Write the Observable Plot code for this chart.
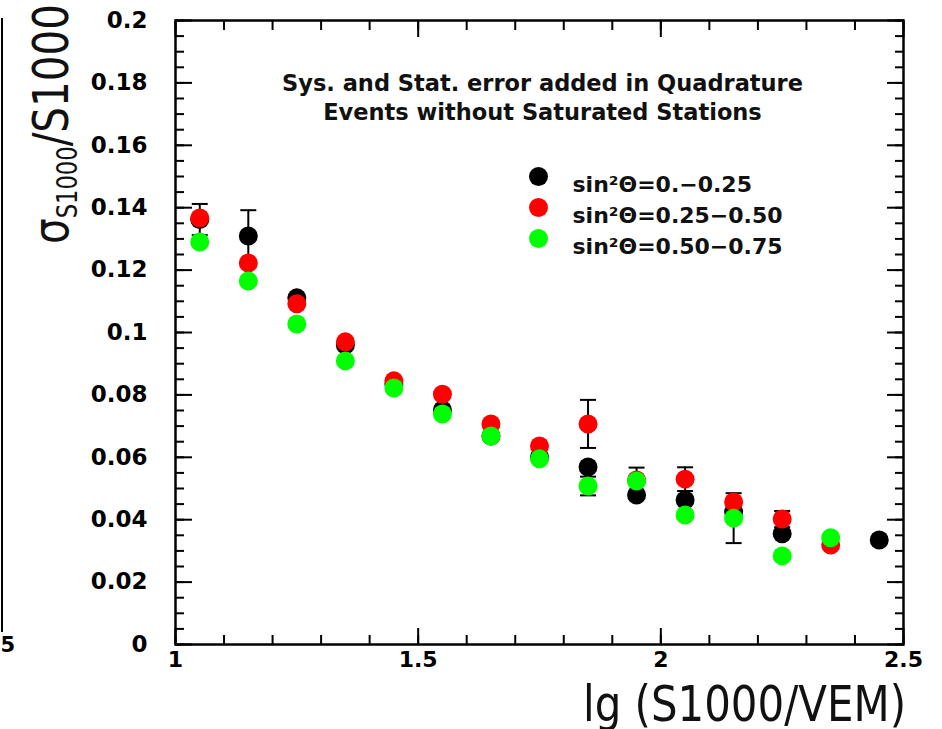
<!DOCTYPE html>
<html>
<head>
<meta charset="utf-8">
<script src="https://cdn.jsdelivr.net/npm/d3@7"></script>
<script src="https://cdn.jsdelivr.net/npm/@observablehq/plot@0.6"></script>
<style>
  html, body { margin: 0; padding: 0; background: #fff; }
  #chart { position: relative; width: 942px; height: 729px; overflow: hidden; }
</style>
</head>
<body>
<div id="chart"></div>
<script>
// ---- data ----
const lgS = [1.05, 1.15, 1.25, 1.35, 1.45, 1.55, 1.65, 1.75, 1.85, 1.95, 2.05, 2.15, 2.25, 2.35, 2.45];

const seriesNames = ["sin²Θ=0.−0.25", "sin²Θ=0.25−0.50", "sin²Θ=0.50−0.75"];
const seriesColors = ["#000000", "#ff0000", "#00ff00"];

const blackVals = [0.1362, 0.1309, 0.1111, 0.0960, 0.0835, 0.0752, 0.0668, 0.0601, 0.0569, 0.0479, 0.0463, 0.0425, 0.0355, null, 0.0335];
const blackErr  = [0.0050, 0.0083, 0, 0, 0, 0, 0, 0, 0, 0, 0, 0, 0, 0, 0];

const redVals = [0.1367, 0.1223, 0.1092, 0.0970, 0.0845, 0.0802, 0.0707, 0.0636, 0.0707, 0.0527, 0.0530, 0.0457, 0.0402, 0.0319, null];
const redErr  = [0, 0, 0, 0, 0, 0, 0, 0, 0.0077, 0.0040, 0.0038, 0, 0.0026, 0, 0];

const greenVals = [0.1290, 0.1165, 0.1027, 0.0909, 0.0822, 0.0739, 0.0668, 0.0595, 0.0508, 0.0524, 0.0415, 0.0405, 0.0284, 0.0342, null];
const greenErr  = [0, 0, 0, 0, 0, 0, 0, 0, 0.0030, 0, 0, 0.0080, 0, 0, 0];

const yMajorTicks = [0, 0.02, 0.04, 0.06, 0.08, 0.1, 0.12, 0.14, 0.16, 0.18, 0.2];
const yTickLabels = ["0", "0.02", "0.04", "0.06", "0.08", "0.1", "0.12", "0.14", "0.16", "0.18", "0.2"];
const xMajorTicks = [1, 1.5, 2, 2.5];
const xTickLabels = ["1", "1.5", "2", "2.5"];

const titleLines = ["Sys. and Stat. error added in Quadrature", "Events without Saturated Stations"];

// ---- table built from the arrays ----
const allVals = [blackVals, redVals, greenVals];
const allErr = [blackErr, redErr, greenErr];
const points = [];
allVals.forEach((vals, s) => {
  vals.forEach((v, i) => {
    if (v != null) points.push({x: lgS[i], y: v, err: allErr[s][i], series: seriesNames[s]});
  });
});
const errPoints = points.filter(d => d.err > 0);
const capPoints = errPoints.flatMap(d => [{x: d.x, y: d.y - d.err}, {x: d.x, y: d.y + d.err}]);
const yMinor = d3.range(0, 0.2001, 0.005);
const xMinor = d3.range(1, 2.5001, 0.1);

const tickFont = "DejaVu Sans, Verdana, sans-serif";

// horizontal cap symbol for error bars
const capSymbol = {draw(ctx) { ctx.moveTo(-8, 0); ctx.lineTo(8, 0); }};

const legendMarks = seriesNames.flatMap((name, i) => [
  Plot.dot([name], {frameAnchor: "top-left", dx: 363, dy: 156 + 31 * i, r: 9.5, fill: seriesColors[i]}),
  Plot.text([name], {frameAnchor: "top-left", dx: 397, dy: 156 + 31 * i, text: d => d, textAnchor: "start",
    fontSize: 22, fontWeight: "bold", fontFamily: tickFont, fill: "#111"})
]);

const plot = Plot.plot({
  width: 942,
  height: 729,
  marginLeft: 175,
  marginRight: 39,
  marginTop: 20,
  marginBottom: 85,
  x: {type: "linear", domain: [1, 2.5], label: null},
  y: {type: "linear", domain: [0, 0.2], label: null},
  color: {domain: seriesNames, range: seriesColors},
  style: {background: "white", color: "black"},
  marks: [
    // tick labels
    Plot.axisY({ticks: yMajorTicks, tickSize: 0, tickPadding: 28, label: null,
      tickFormat: d => yTickLabels[yMajorTicks.indexOf(d)] ?? "",
      fontSize: 23, fontWeight: "bold", fontFamily: tickFont}),
    Plot.axisX({ticks: xMajorTicks, tickSize: 0, tickPadding: 7, label: null,
      tickFormat: d => xTickLabels[xMajorTicks.indexOf(d)] ?? "",
      fontSize: 22, fontWeight: "bold", fontFamily: tickFont}),
    // inward ticks, left & right
    Plot.axisY({anchor: "left", ticks: yMajorTicks, tickSize: -17, fill: "none", label: null, strokeWidth: 2}),
    Plot.axisY({anchor: "left", ticks: yMinor, tickSize: -9, fill: "none", label: null, strokeWidth: 2}),
    Plot.axisY({anchor: "right", ticks: yMajorTicks, tickSize: -17, fill: "none", label: null, strokeWidth: 2}),
    Plot.axisY({anchor: "right", ticks: yMinor, tickSize: -9, fill: "none", label: null, strokeWidth: 2}),
    // inward ticks, bottom & top
    Plot.axisX({anchor: "bottom", ticks: xMajorTicks, tickSize: -16, fill: "none", label: null, strokeWidth: 2}),
    Plot.axisX({anchor: "bottom", ticks: xMinor, tickSize: -9, fill: "none", label: null, strokeWidth: 2}),
    Plot.axisX({anchor: "top", ticks: xMajorTicks, tickSize: -16, fill: "none", label: null, strokeWidth: 2}),
    Plot.axisX({anchor: "top", ticks: xMinor, tickSize: -9, fill: "none", label: null, strokeWidth: 2}),
    Plot.frame({stroke: "black", strokeWidth: 2.5}),
    // error bars
    Plot.ruleX(errPoints, {x: "x", y1: d => d.y - d.err, y2: d => d.y + d.err, stroke: "black", strokeWidth: 2}),
    Plot.dot(capPoints, {x: "x", y: "y", symbol: capSymbol, stroke: "black", strokeWidth: 2, fill: "none"}),
    // points (black, then red, then green on top)
    Plot.dot(points, {x: "x", y: "y", fill: "series", r: 9.5}),
    // title and legend
    Plot.text([titleLines[0]], {frameAnchor: "top", dx: 3, dy: 55, text: d => d, fontSize: 22.5, fontWeight: "bold", fontFamily: tickFont, fill: "#111"}),
    Plot.text([titleLines[1]], {frameAnchor: "top", dx: 3, dy: 84, text: d => d, fontSize: 22.5, fontWeight: "bold", fontFamily: tickFont, fill: "#111"}),
    ...legendMarks
  ]
});

document.getElementById("chart").appendChild(plot);

// axis titles with sub-script
const svg = d3.select(plot);
const titleFont = "'Liberation Sans Narrow', 'DejaVu Sans Condensed', 'Liberation Sans', sans-serif";
svg.append("text")
  .attr("x", 906).attr("y", 721)
  .attr("text-anchor", "end")
  .attr("font-family", titleFont).attr("font-size", 50).attr("font-weight", 300)
  .attr("textLength", 323).attr("lengthAdjust", "spacingAndGlyphs")
  .attr("fill", "#111")
  .text("lg (S1000/VEM)");

const yt = svg.append("text")
  .attr("transform", "translate(68,244) rotate(-90)")
  .attr("text-anchor", "start")
  .attr("font-family", titleFont).attr("font-size", 50).attr("font-weight", 300)
  .attr("textLength", 240).attr("lengthAdjust", "spacingAndGlyphs")
  .attr("fill", "#111");
yt.append("tspan").text("σ");
yt.append("tspan").attr("font-size", 28).attr("dy", 9).text("S1000");
yt.append("tspan").attr("dy", -9).text("/S1000");

// remnant of neighbouring panel at the left edge
svg.append("line").attr("x1", 2).attr("x2", 2).attr("y1", 18).attr("y2", 632)
  .attr("stroke", "black").attr("stroke-width", 2);
svg.append("text").attr("x", 15).attr("y", 652).attr("text-anchor", "end")
  .attr("font-family", tickFont).attr("font-weight", "bold").attr("font-size", 21).text("2.5");
</script>
</body>
</html>
